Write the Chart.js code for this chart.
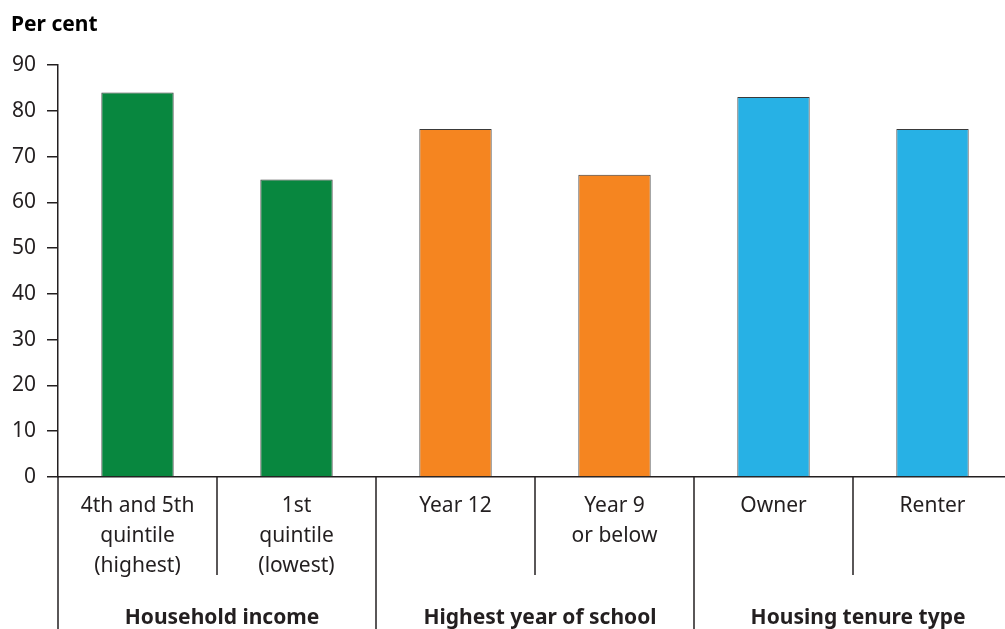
<!DOCTYPE html>
<html>
<head>
<meta charset="utf-8">
<script src="https://cdn.jsdelivr.net/npm/chart.js@4.4.0/dist/chart.umd.min.js"></script>
<style>
  html, body { margin: 0; padding: 0; background: #fff; overflow: hidden; }
  #wrap { width: 1012px; height: 629px; position: relative; }
</style>
</head>
<body>
<div id="wrap"><canvas id="chart"></canvas></div>
<script>
/* ---------- data ---------- */
const categories = [
    ["4th and 5th", "quintile", "(highest)"],
    ["1st", "quintile", "(lowest)"],
    ["Year 12"],
    ["Year 9", "or below"],
    ["Owner"],
    ["Renter"]
];
const values = [84, 65, 76, 66, 83, 76];
const barColors = ["#08873f", "#08873f", "#f58520", "#f58520", "#27b1e5", "#27b1e5"];
const groups = ["Household income", "Highest year of school", "Housing tenure type"];
const groupSizes = [2, 2, 2];
const yTicks = [0, 10, 20, 30, 40, 50, 60, 70, 80, 90];

const FONT = "'Noto Sans', 'Open Sans', sans-serif";
const INK = "#231f20";

/* ---------- extras: dividers, group labels, axis title ---------- */
const extras = {
    id: "extras",
    afterDraw(chart) {
        const ctx = chart.ctx;
        const x = chart.scales.x;
        const area = chart.chartArea;
        const bottom = chart.height;
        const half = (x.getPixelForValue(1) - x.getPixelForValue(0)) / 2;

        ctx.save();
        ctx.strokeStyle = INK;
        ctx.lineWidth = 1.5;

        // axis continues down past the labels
        ctx.beginPath();
        ctx.moveTo(area.left, area.bottom);
        ctx.lineTo(area.left, bottom);
        ctx.stroke();

        let idx = 0;
        groups.forEach((g, gi) => {
            const start = x.getPixelForValue(idx) - half;
            const end = x.getPixelForValue(idx + groupSizes[gi] - 1) + half;
            // short lines between categories inside a group
            for (let k = 1; k < groupSizes[gi]; k++) {
                const px = x.getPixelForValue(idx + k) - half;
                ctx.beginPath();
                ctx.moveTo(px, area.bottom);
                ctx.lineTo(px, area.bottom + 98);
                ctx.stroke();
            }
            // long line at group end
            ctx.beginPath();
            ctx.moveTo(end, area.bottom);
            ctx.lineTo(end, bottom);
            ctx.stroke();

            ctx.fillStyle = INK;
            ctx.font = "bold 21px " + FONT;
            ctx.textAlign = "center";
            ctx.textBaseline = "middle";
            ctx.fillText(g, (start + end) / 2 + 5, 618);
            idx += groupSizes[gi];
        });

        ctx.font = "bold 21px " + FONT;
        ctx.textAlign = "left";
        ctx.textBaseline = "middle";
        ctx.fillStyle = "#000";
        ctx.fillText("Per cent", 11, 25);
        ctx.restore();
    }
};

new Chart(document.getElementById("chart"), {
    type: "bar",
    data: {
        labels: categories,
        datasets: [{
            data: values,
            backgroundColor: barColors,
            borderColor: "#3a3a3a",
            borderWidth: 1,
            categoryPercentage: 1,
            barPercentage: 0.455
        }]
    },
    options: {
        responsive: true,
        maintainAspectRatio: false,
        animation: false,
        layout: { padding: { top: 65, left: 0, right: 0, bottom: 0 } },
        plugins: {
            legend: { display: false },
            tooltip: { enabled: false }
        },
        scales: {
            x: {
                afterFit: s => { s.height = 152; },
                grid: { display: false },
                border: { display: true, color: INK, width: 1.5 },
                ticks: {
                    color: INK,
                    font: { family: FONT, size: 21, lineHeight: 1.43 },
                    padding: 6,
                    maxRotation: 0,
                    autoSkip: false
                }
            },
            y: {
                min: 0,
                max: 90,
                afterFit: s => { s.width = 58; },
                afterBuildTicks: s => { s.ticks = yTicks.map(v => ({ value: v })); },
                grid: {
                    drawOnChartArea: false,
                    drawTicks: true,
                    tickLength: 11,
                    color: INK,
                    lineWidth: 1.5
                },
                border: { display: true, color: INK, width: 1.5 },
                ticks: {
                    color: INK,
                    font: { family: FONT, size: 21 },
                    padding: 11
                }
            }
        }
    },
    plugins: [extras]
});
</script>
</body>
</html>
